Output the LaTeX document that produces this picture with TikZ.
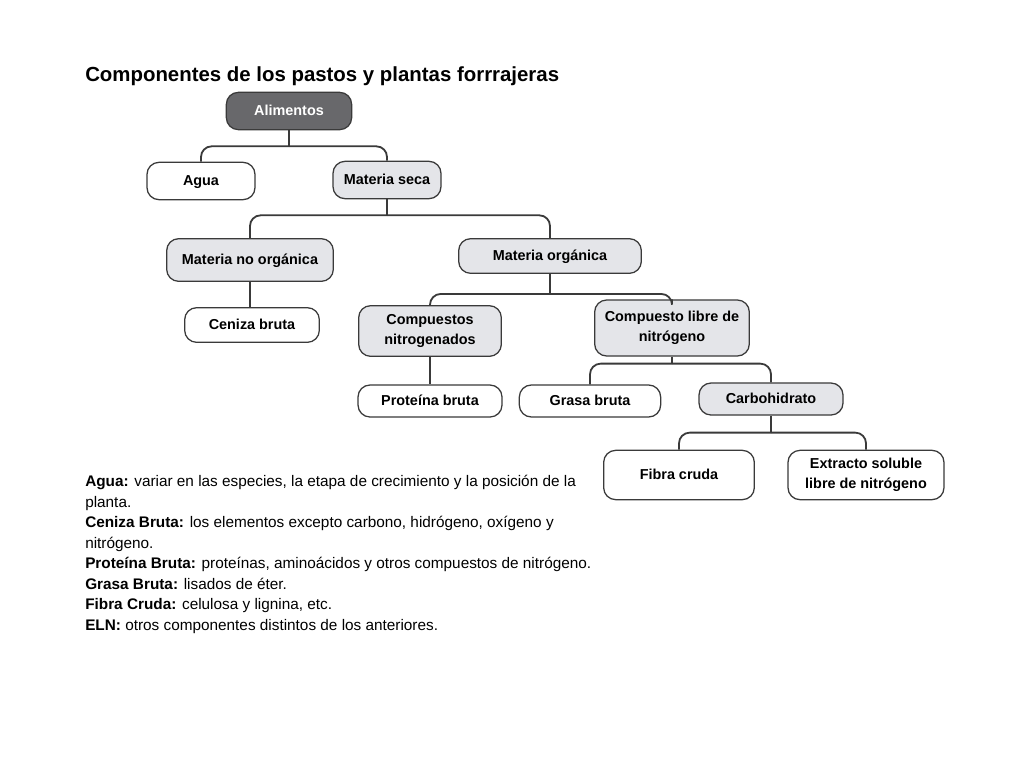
\documentclass[tikz,border=0pt]{standalone}
\usepackage{fontspec}
\setmainfont{Liberation Sans}
\definecolor{rootfill}{HTML}{68686B}
\definecolor{boxfill}{HTML}{E4E5E9}
\definecolor{edge}{HTML}{3A3A3A}
\tikzset{
  box/.style={draw=edge, line width=0.95pt, rounded corners=9pt, inner sep=0pt,
    align=center, font=\bfseries\fontsize{10.8}{15}\selectfont},
  root/.style={box, fill=rootfill, text=white},
  inner/.style={box, fill=boxfill},
  leaf/.style={box, fill=white},
  oneline/.style={text height=9.4pt, text depth=2pt},
  link/.style={draw=edge, line width=1.35pt, rounded corners=8pt}
}
\begin{document}
\begin{tikzpicture}[x=0.75pt,y=-0.75pt]
\useasboundingbox[fill=white] (0,0) rectangle (1024,768);

\node[anchor=base west, inner sep=0pt, font=\bfseries\fontsize{15.3}{18}\selectfont] (title) at (85,81) {Componentes de los pastos y plantas forrrajeras};

% arbol
\node[root, oneline, minimum width=94pt, minimum height=28pt] (alim) at (289,111) {Alimentos};
\node[leaf, oneline, minimum width=81pt, minimum height=28pt] (agua) at (201,181) {Agua};
\node[inner, oneline, minimum width=81pt, minimum height=28pt] (seca) at (387,180) {Materia seca};
\node[inner, oneline, minimum width=125pt, minimum height=32pt] (noorg) at (250,260) {Materia no orgánica};
\node[inner, oneline, minimum width=137pt, minimum height=26pt] (org) at (550,256) {Materia orgánica};
\node[leaf, oneline, minimum width=101pt, minimum height=26pt] (ceniza) at (252,325) {Ceniza bruta};
\node[inner, minimum width=107pt, minimum height=38pt] (nitro) at (430,331) {Compuestos\\nitrogenados};
\node[inner, minimum width=116pt, minimum height=42pt] (libre) at (672,328) {Compuesto libre de\\nitrógeno};
\node[leaf, oneline, minimum width=108pt, minimum height=24pt] (prot) at (430,401) {Proteína bruta};
\node[leaf, oneline, minimum width=106pt, minimum height=24pt] (grasa) at (590,401) {Grasa bruta};
\node[inner, oneline, minimum width=108pt, minimum height=24pt] (carbo) at (771,399) {Carbohidrato};
\node[leaf, oneline, minimum width=113pt, minimum height=37pt] (fibra) at (679,475) {Fibra cruda};
\node[leaf, minimum width=117pt, minimum height=37pt] (eln) at (866,475) {Extracto soluble\\libre de nitrógeno};

% conexiones
\draw[link] (alim.south) -- ++(0,16) coordinate (j1);
\draw[link] (j1) -| (agua.north);
\draw[link] (j1) -| (seca.north);

\draw[link] (seca.south) -- ++(0,16) coordinate (j2);
\draw[link] (j2) -| (noorg.north);
\draw[link] (j2) -| (org.north);

\draw[link] (noorg.south) -- (noorg.south |- ceniza.north);

\draw[link] (org.south) -- ++(0,20) coordinate (j3);
\draw[link] (j3) -| (nitro.north);
\draw[link] (j3) -| (libre.north);

\draw[link] (nitro.south) -- (prot.north);

\draw[link] (libre.south) -- ++(0,7) coordinate (j4);
\draw[link] (j4) -| (grasa.north);
\draw[link] (j4) -| (carbo.north);

\draw[link] (carbo.south) -- ++(0,17) coordinate (j5);
\draw[link] (j5) -| (fibra.north);
\draw[link] (j5) -| (eln.north);

% leyenda
\node[anchor=north west, inner sep=0pt, align=left, font=\fontsize{11.5}{15.4}\selectfont] (notes) at (85,475)
{\textbf{Agua:} variar en las especies, la etapa de crecimiento y la posición de la\\
planta.\\
\textbf{Ceniza Bruta:} los elementos excepto carbono, hidrógeno, oxígeno y\\
nitrógeno.\\
\textbf{Proteína Bruta:} proteínas, aminoácidos y otros compuestos de nitrógeno.\\
\textbf{Grasa Bruta:} lisados de éter.\\
\textbf{Fibra Cruda:} celulosa y lignina, etc.\\
\textbf{ELN:} otros componentes distintos de los anteriores.};

\end{tikzpicture}
\end{document}
